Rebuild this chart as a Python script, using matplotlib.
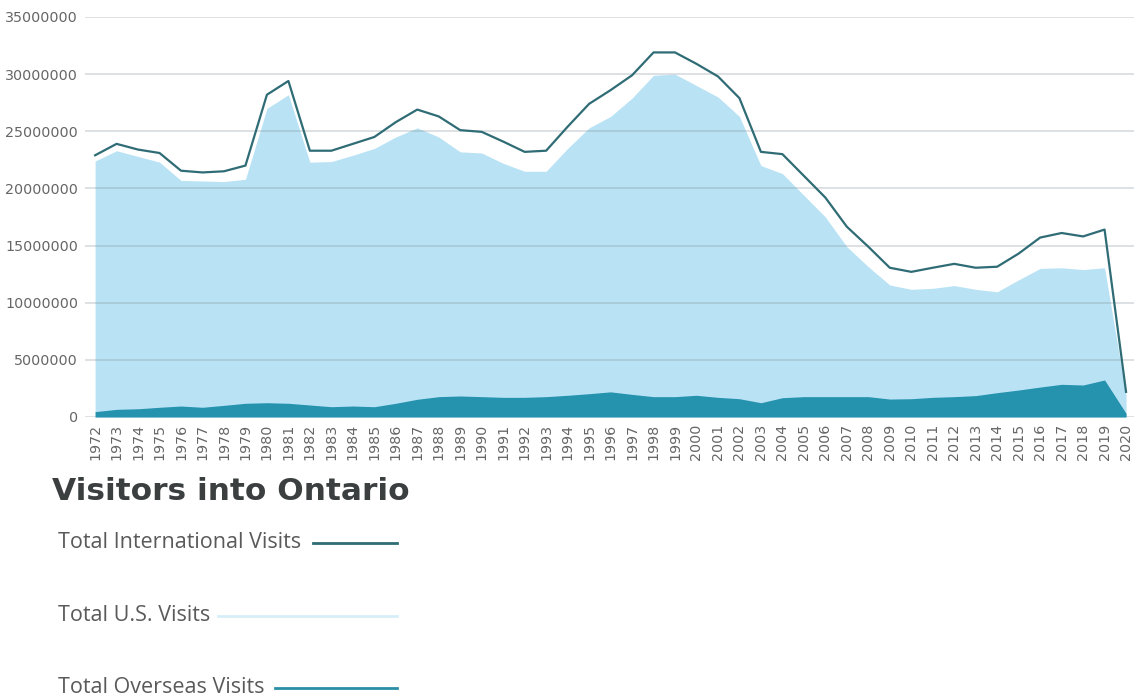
import matplotlib.pyplot as plt
from matplotlib.lines import Line2D
import numpy as np

years = list(range(1972, 2021))

# values in millions of visits
total_intl = [22.9, 23.9, 23.4, 23.1, 21.55, 21.4, 21.5, 22.0, 28.2, 29.4,
              23.3, 23.3, 23.9, 24.5, 25.8, 26.9, 26.3, 25.1, 24.95, 24.1,
              23.2, 23.3, 25.4, 27.4, 28.6, 29.9, 31.9, 31.9, 30.9, 29.8,
              27.9, 23.2, 23.0, 21.1, 19.2, 16.65, 14.9, 13.06, 12.7, 13.06,
              13.4, 13.06, 13.15, 14.3, 15.7, 16.1, 15.8, 16.4, 2.2]
us_visits = [22.4, 23.3, 22.8, 22.3, 20.7, 20.65, 20.6, 20.8, 27.0, 28.2,
             22.3, 22.35, 22.9, 23.5, 24.5, 25.3, 24.5, 23.2, 23.1, 22.2,
             21.5, 21.5, 23.5, 25.3, 26.3, 27.9, 29.9, 30.0, 29.0, 28.0,
             26.3, 22.0, 21.3, 19.4, 17.5, 14.9, 13.15, 11.55, 11.17, 11.26,
             11.5, 11.17, 10.96, 12.0, 13.0, 13.06, 12.9, 13.06, 1.9]
overseas = [0.47, 0.67, 0.72, 0.85, 0.96, 0.85, 1.02, 1.2, 1.25, 1.2,
            1.05, 0.9, 0.96, 0.9, 1.2, 1.55, 1.78, 1.84, 1.78, 1.72,
            1.72, 1.78, 1.9, 2.04, 2.2, 1.98, 1.78, 1.78, 1.9, 1.72,
            1.6, 1.25, 1.69, 1.78, 1.78, 1.78, 1.78, 1.57, 1.6, 1.72,
            1.78, 1.87, 2.13, 2.36, 2.62, 2.86, 2.8, 3.24, 0.32]

yticks = [0, 5000000, 10000000, 15000000, 20000000, 25000000, 30000000, 35000000]

x = np.array(years)
total_intl = np.array(total_intl) * 1e6
us_visits = np.array(us_visits) * 1e6
overseas = np.array(overseas) * 1e6

light = '#b9e3f5'
dark = '#2592ae'
line_c = '#2f6c75'
txt = '#5a5a5a'

fig = plt.figure(figsize=(11.34, 6.98), dpi=100)
ax = fig.add_axes([85 / 1134, 1 - 417 / 698, 1 - 85 / 1134, 400 / 698])

ax.fill_between(x, 0, us_visits, color=light, lw=0, zorder=1)
for t in yticks:
    ax.axhline(t, color='#7a8a90', alpha=0.3, lw=1.2, zorder=2)
ax.fill_between(x, 0, overseas, color=dark, lw=0, zorder=3)
ax.plot(x, total_intl, color=line_c, lw=1.6, zorder=4)

ax.set_xlim(1971.53, 2020.37)
ax.set_ylim(0, 35000000)
ax.set_yticks(yticks)
ax.set_yticklabels([str(t) for t in yticks])
ax.set_xticks(years)
ax.set_xticklabels([str(y) for y in years], rotation=90)
ax.tick_params(axis='both', length=0, labelsize=10.3, colors='#666666')
ax.tick_params(axis='y', pad=5)
ax.tick_params(axis='x', pad=5)
for s in ax.spines.values():
    s.set_visible(False)

fig.text(52 / 1134, 1 - 500 / 698, 'Visitors into Ontario', family='DejaVu Sans',
         weight='bold', fontsize=22.5, color='#3b3f3f', va='baseline')

legend = [('Total International Visits', 548, 313, line_c),
          ('Total U.S. Visits', 621, 218, '#d6eef7'),
          ('Total Overseas Visits', 693, 275, '#2a8ea7')]
for label, base, lx, col in legend:
    fig.text(58 / 1134, 1 - base / 698, label, family='Open Sans', fontsize=15.5,
             color=txt, va='baseline')
    ly = 1 - (base - 5) / 698
    fig.add_artist(Line2D([lx / 1134, 397 / 1134], [ly, ly], color=col, lw=2,
                          transform=fig.transFigure))

fig.savefig('out.png', dpi=100)
